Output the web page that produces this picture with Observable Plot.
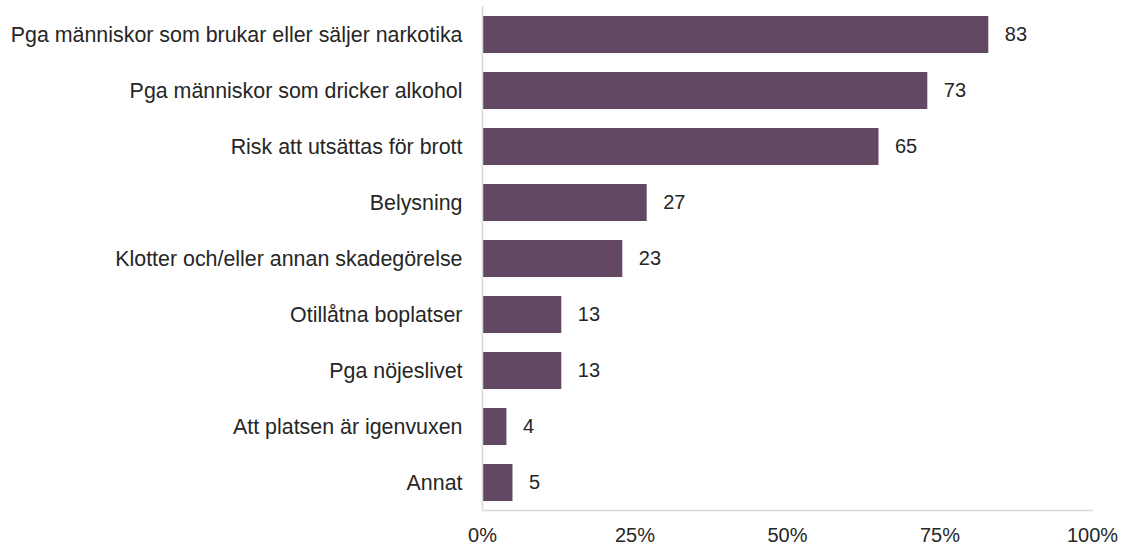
<!DOCTYPE html>
<html>
<head>
<meta charset="utf-8">
<script src="https://cdn.jsdelivr.net/npm/d3@7"></script>
<script src="https://cdn.jsdelivr.net/npm/@observablehq/plot@0.6"></script>
<style>
  html, body { margin: 0; padding: 0; background: #fff; }
  #chart svg { display: block; }
</style>
</head>
<body>
<div id="chart"></div>
<script>
const categories = [
  "Pga människor som brukar eller säljer narkotika",
  "Pga människor som dricker alkohol",
  "Risk att utsättas för brott",
  "Belysning",
  "Klotter och/eller annan skadegörelse",
  "Otillåtna boplatser",
  "Pga nöjeslivet",
  "Att platsen är igenvuxen",
  "Annat"
];
const values = [83, 73, 65, 27, 23, 13, 13, 4, 5];
const xTicks = [0, 25, 50, 75, 100];

const data = categories.map((c, i) => ({category: c, value: values[i]}));

const barColor = "#634863";
const axisColor = "#d9d9d9";
const textColor = "#262626";

const chart = Plot.plot({
  width: 1122,
  height: 545,
  marginTop: 6,
  marginBottom: 35,
  marginLeft: 482,
  marginRight: 30,
  style: {fontFamily: "Arial, 'Liberation Sans', sans-serif", color: textColor, background: "#fff"},
  x: {domain: [0, 100], ticks: xTicks, tickFormat: d => d + "%", label: null},
  y: {domain: categories, paddingInner: 0.34, paddingOuter: 0.17, label: null},
  marks: [
    Plot.barX(data, {x: "value", y: "category", fill: barColor}),
    Plot.text(data, {x: "value", y: "category", text: d => String(d.value), textAnchor: "start", dx: 16, fontSize: 20, fill: textColor}),
    Plot.ruleX([0], {stroke: axisColor, strokeWidth: 1.5}),
    Plot.frame({anchor: "bottom", stroke: axisColor, strokeWidth: 1.5}),
    Plot.axisY({tickSize: 0, tickPadding: 20, fontSize: 21.4, label: null}),
    Plot.axisX({tickSize: 0, tickPadding: 17, fontSize: 20, label: null, ticks: xTicks, tickFormat: d => d + "%"})
  ]
});
document.getElementById("chart").appendChild(chart);
</script>
</body>
</html>
